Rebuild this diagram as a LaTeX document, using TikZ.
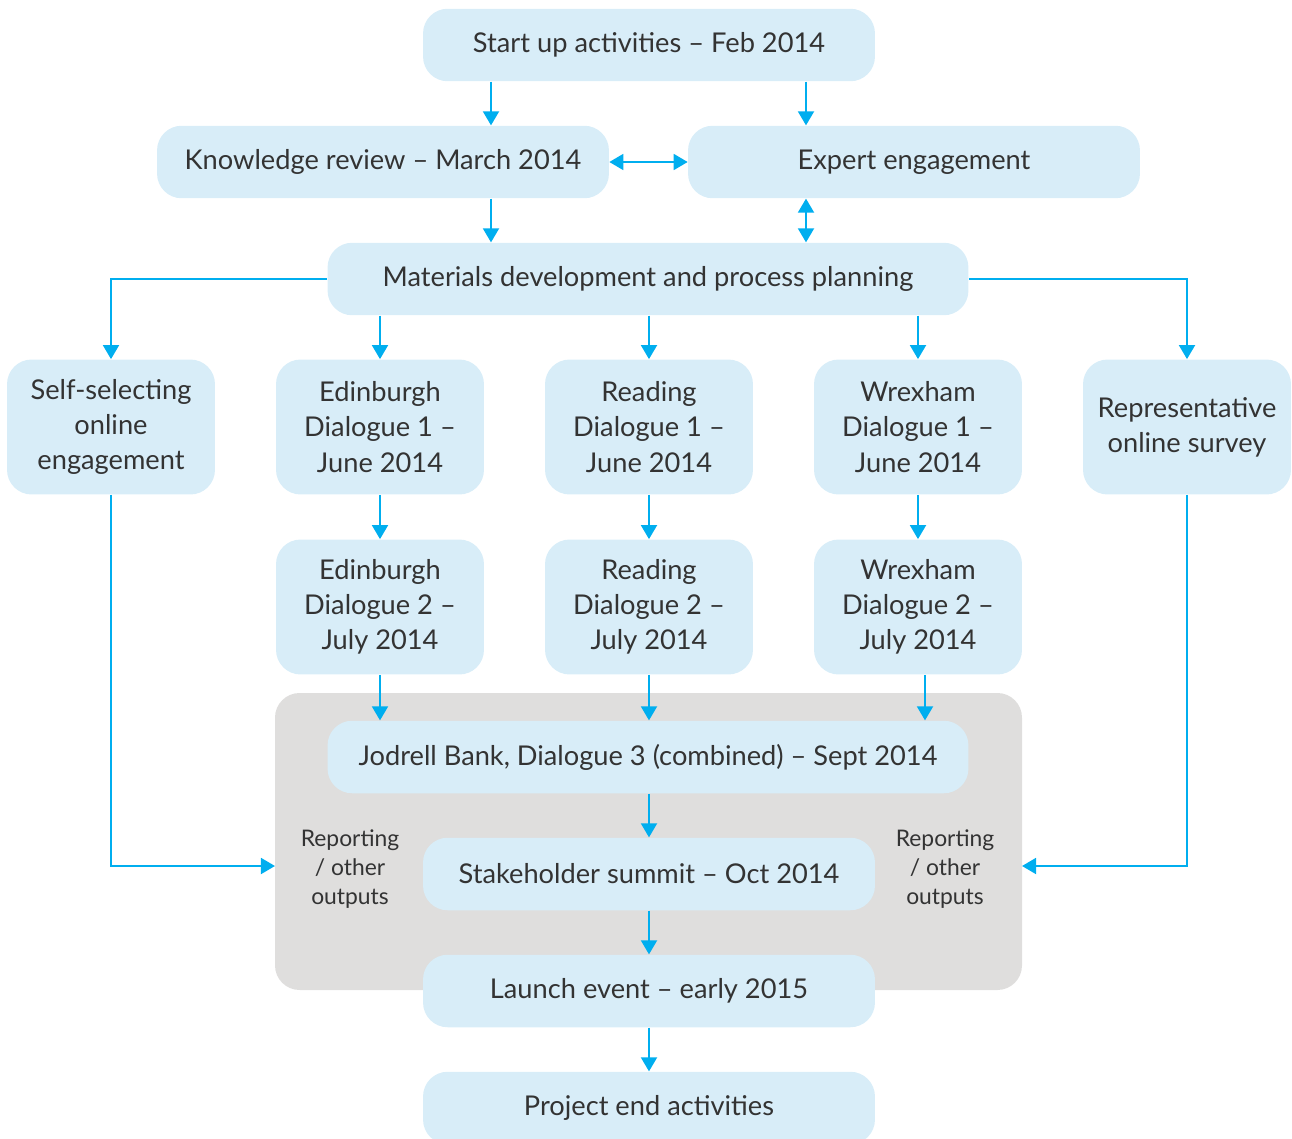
\documentclass[tikz,border=0pt]{standalone}
\usepackage{fontspec}
\setmainfont{Lato}
\usetikzlibrary{arrows.meta}
\definecolor{boxblue}{HTML}{D8EDF8}
\definecolor{arrowblue}{HTML}{00AEEF}
\definecolor{panelgrey}{HTML}{DFDEDD}
\definecolor{textgrey}{HTML}{333333}
\begin{document}
\begin{tikzpicture}[
    x=0.02cm, y=-0.02cm,
    stagebox/.style={rectangle, fill=boxblue, rounded corners=14pt, minimum width=9.04cm, minimum height=1.45cm, text=textgrey, font=\fontsize{15.5}{20}\selectfont, align=center, inner sep=0pt},
    widebox/.style={stagebox, minimum width=12.82cm},
    citybox/.style={stagebox, minimum width=4.16cm, minimum height=2.7cm},
    notetext/.style={text=textgrey, font=\fontsize{13}{16.5}\selectfont, align=center},
    myarrow/.style={-{Triangle[length=8pt, width=9pt]}, line width=1.4pt, draw=arrowblue},
    twoway/.style={{Triangle[length=8pt, width=9pt]}-{Triangle[length=8pt, width=9pt]}, line width=1.4pt, draw=arrowblue},
]
\useasboundingbox (0,0) rectangle (1292,1139);

\fill[panelgrey, rounded corners=14pt] (275,693) rectangle (1022,990);

\node[stagebox] (start)  at (649,45)  {Start up activities -- Feb 2014};
\node[stagebox] (review) at (383,162) {Knowledge review -- March 2014};
\node[stagebox] (expert) at (914,162) {Expert engagement};
\node[widebox]  (materials) at (648,279) {Materials development and process planning};

\node[citybox] (selfsel) at (111,427)  {Self-selecting\\online\\engagement};
\node[citybox] (edin1)   at (380,427)  {Edinburgh\\Dialogue 1 --\\June 2014};
\node[citybox] (read1)   at (649,427)  {Reading\\Dialogue 1 --\\June 2014};
\node[citybox] (wrex1)   at (918,427)  {Wrexham\\Dialogue 1 --\\June 2014};
\node[citybox] (survey)  at (1187,427) {Representative\\online survey};

\node[citybox] (edin2) at (380,607) {Edinburgh\\Dialogue 2 --\\July 2014};
\node[citybox] (read2) at (649,607) {Reading\\Dialogue 2 --\\July 2014};
\node[citybox] (wrex2) at (918,607) {Wrexham\\Dialogue 2 --\\July 2014};

\node[widebox]  (jodrell) at (648,757)  {Jodrell Bank, Dialogue 3 (combined) -- Sept 2014};
\node[stagebox] (summit)  at (649,874)  {Stakeholder summit -- Oct 2014};
\node[stagebox] (launch)  at (649,991)  {Launch event -- early 2015};
\node[stagebox] (projend) at (649,1108) {Project end activities};

\node[notetext] (reportl) at (350,869) {Reporting\\/ other\\outputs};
\node[notetext] (reportr) at (945,869) {Reporting\\/ other\\outputs};

\coordinate (panelw) at (275,866);
\coordinate (panele) at (1022,866);

\draw[myarrow] (start.south -| 491,0) -- (review.north -| 491,0);
\draw[myarrow] (start.south -| 806,0) -- (expert.north -| 806,0);
\draw[twoway] (review) -- (expert);
\draw[myarrow] (review.south -| 491,0) -- (materials.north -| 491,0);
\draw[twoway] (expert.south -| 806,0) -- (materials.north -| 806,0);

\draw[myarrow] (materials.west) -| (selfsel.north);
\draw[myarrow] (materials.south -| edin1) -- (edin1.north);
\draw[myarrow] (materials.south -| read1) -- (read1.north);
\draw[myarrow] (materials.south -| wrex1) -- (wrex1.north);
\draw[myarrow] (materials.east) -| (survey.north);

\draw[myarrow] (edin1) -- (edin2);
\draw[myarrow] (read1) -- (read2);
\draw[myarrow] (wrex1) -- (wrex2);

\draw[myarrow] (edin2.south) -- (jodrell.north -| edin2);
\draw[myarrow] (read2.south) -- (jodrell.north -| read2);
\draw[myarrow] (wrex2.south -| 925,0) -- (jodrell.north -| 925,0);

\draw[myarrow] (selfsel.south) |- (panelw);
\draw[myarrow] (survey.south) |- (panele);

\draw[myarrow] (jodrell.south -| summit) -- (summit.north);
\draw[myarrow] (summit) -- (launch);
\draw[myarrow] (launch) -- (projend);
\end{tikzpicture}
\end{document}
